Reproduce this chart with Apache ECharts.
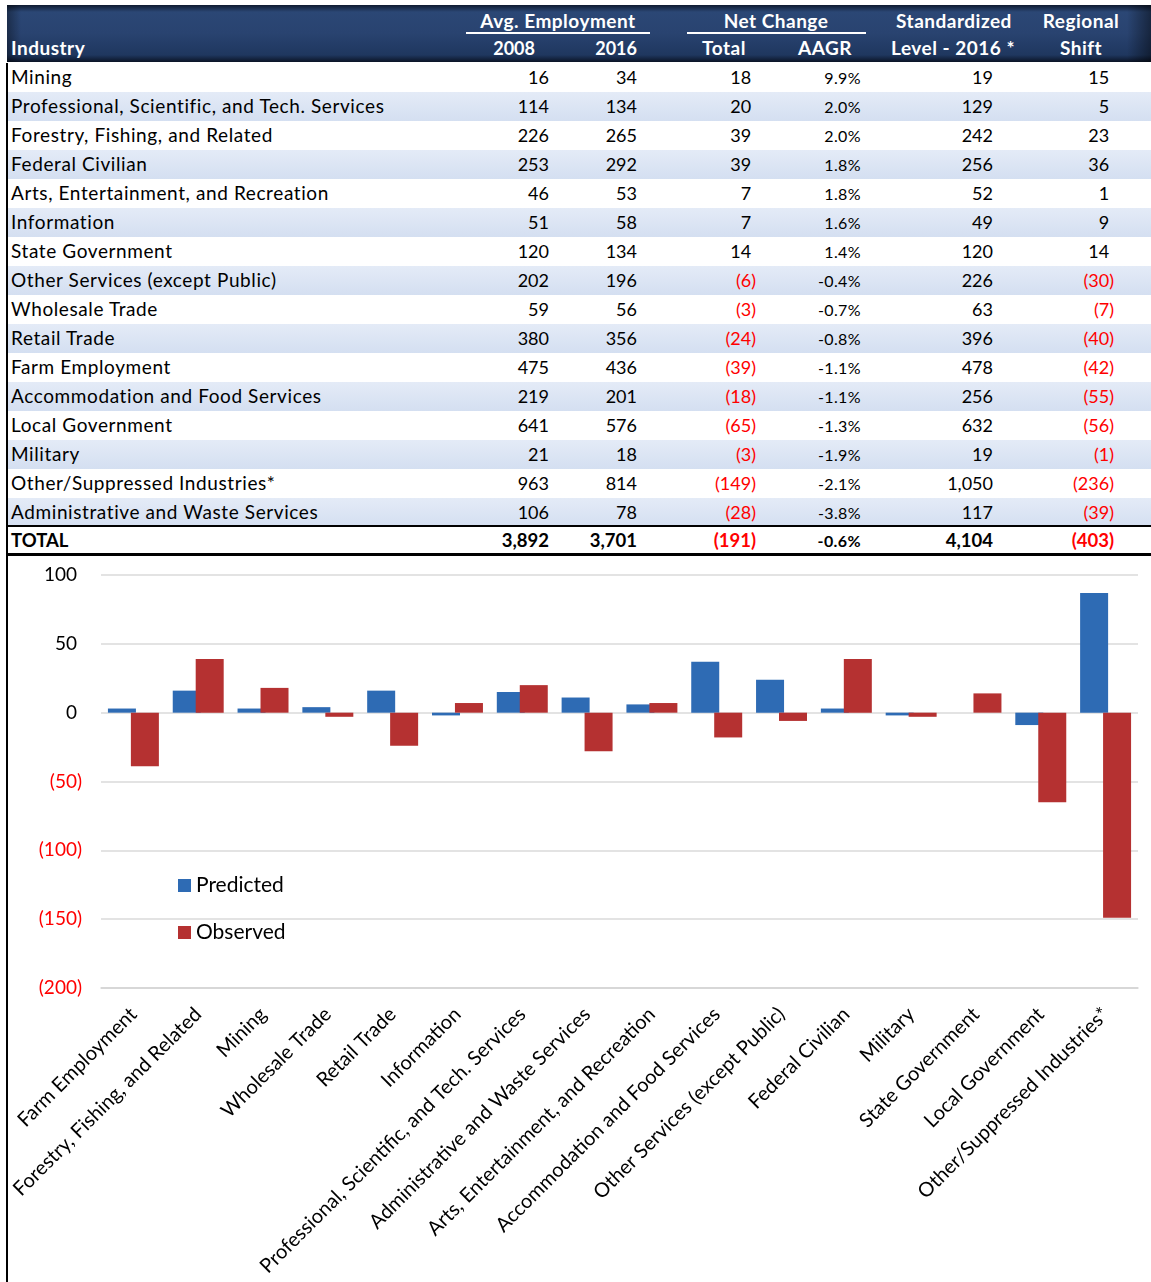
<!DOCTYPE html>
<html>
<head>
<meta charset="utf-8">
<script src="https://cdn.jsdelivr.net/npm/echarts@6/dist/echarts.min.js"></script>
<style>
    body { margin: 0; background: #fff; font-family: Lato, sans-serif; }
    #page { position: relative; width: 1151px; height: 1282px; overflow: hidden; background: #fff; }
    .t { position: absolute; white-space: nowrap; line-height: 24px; height: 24px; }
    .row { position: absolute; left: 7px; width: 1144px; height: 29px; }
    .head { position: absolute; left: 7px; top: 5px; width: 1144px; height: 57px;
        background: linear-gradient(to bottom, #0f1b31 0px, #2b4775 7px, #294370 28px, #1f375f 50px, #0b1426 57px); }
    .head:after { content: ''; position: absolute; left: 0; top: 0; right: 0; bottom: 0;
        background: linear-gradient(to right, rgba(0,0,0,0.35) 0px, rgba(0,0,0,0) 14px, rgba(0,0,0,0) 1120px, rgba(0,0,0,0.45) 1144px); }
    .ht { color: #fff; font-weight: 700; font-size: 19px; letter-spacing: 0.5px; }
    .hn { color: #fff; font-weight: 700; font-size: 18px; }
    .hline { position: absolute; height: 2px; background: #fff; top: 32px; }
    #chart { position: absolute; left: 0; top: 556px; width: 1151px; height: 726px; }
</style>
</head>
<body>
<div id="page">
    <div class="head"></div>
    <div id="chart"></div>
</div>
<script>
    // table rows
    var industries = ['Mining', 'Professional, Scientific, and Tech. Services', 'Forestry, Fishing, and Related',
        'Federal Civilian', 'Arts, Entertainment, and Recreation', 'Information', 'State Government',
        'Other Services (except Public)', 'Wholesale Trade', 'Retail Trade', 'Farm Employment',
        'Accommodation and Food Services', 'Local Government', 'Military', 'Other/Suppressed Industries*',
        'Administrative and Waste Services'];
    var emp2008 = [16, 114, 226, 253, 46, 51, 120, 202, 59, 380, 475, 219, 641, 21, 963, 106];
    var emp2016 = [34, 134, 265, 292, 53, 58, 134, 196, 56, 356, 436, 201, 576, 18, 814, 78];
    var netTotal = [18, 20, 39, 39, 7, 7, 14, -6, -3, -24, -39, -18, -65, -3, -149, -28];
    var aagr = [9.9, 2.0, 2.0, 1.8, 1.8, 1.6, 1.4, -0.4, -0.7, -0.8, -1.1, -1.1, -1.3, -1.9, -2.1, -3.8];
    var stdLevel = [19, 129, 242, 256, 52, 49, 120, 226, 63, 396, 478, 256, 632, 19, 1050, 117];
    var regShift = [15, 5, 23, 36, 1, 9, 14, -30, -7, -40, -42, -55, -56, -1, -236, -39];
    var totalRow = {label: 'TOTAL', emp2008: 3892, emp2016: 3701, net: -191, aagr: -0.6, std: 4104, shift: -403};

    // chart
    var chartCategories = ['Farm Employment', 'Forestry, Fishing, and Related', 'Mining', 'Wholesale Trade',
        'Retail Trade', 'Information', 'Professional, Scientific, and Tech. Services',
        'Administrative and Waste Services', 'Arts, Entertainment, and Recreation',
        'Accommodation and Food Services', 'Other Services (except Public)', 'Federal Civilian', 'Military',
        'State Government', 'Local Government', 'Other/Suppressed Industries*'];
    var predicted = [3, 16, 3, 4, 16, -2, 15, 11, 6, 37, 24, 3, -2, 0, -9, 87];
    var observed = [-39, 39, 18, -3, -24, 7, 20, -28, 7, -18, -6, 39, -3, 14, -65, -149];

    var W = 1151;
    var page = document.getElementById('page');

    function put(txt, x, y, align, style) {
        var d = document.createElement('div');
        d.className = 't';
        d.innerHTML = txt;
        if (style) d.style.cssText = style;
        d.style.top = (y - 12) + 'px';
        if (align === 'left') d.style.left = x + 'px';
        else if (align === 'right') d.style.right = (W - x) + 'px';
        else { d.style.left = x + 'px'; d.style.transform = 'translateX(-50%)'; }
        page.appendChild(d);
        return d;
    }

    function fmt(n) { return n.toLocaleString('en-US'); }
    function paren(n) {
        if (n < 0) return '<span style="color:#ff0000">(' + fmt(-n) + ')</span>';
        return fmt(n) + '<span style="visibility:hidden">)</span>';
    }

    // header
    function hput(txt, x, y, align, cls) { var d = put(txt, x, y, align); d.className = 't ' + (cls || 'ht'); }
    hput('Avg. Employment', 558, 21, 'center');
    hput('Net Change', 776, 21, 'center');
    hput('Standardized', 954, 21, 'center');
    hput('Regional', 1081, 21, 'center');
    hput('Industry', 11, 48, 'left');
    hput('2008', 535, 48, 'right', 'hn');
    hput('2016', 637, 48, 'right', 'hn');
    hput('Total', 724, 48, 'center');
    hput('AAGR', 825, 48, 'center');
    hput('Level - 2016 *', 953, 48, 'center');
    hput('Shift', 1081, 48, 'center');
    [[466, 650], [687, 866]].forEach(function (s) {
        var l = document.createElement('div');
        l.className = 'hline';
        l.style.left = s[0] + 'px';
        l.style.width = (s[1] - s[0]) + 'px';
        page.appendChild(l);
    });

    // body rows
    var base = 'font-size:18px;color:#000;';
    var nameStyle = 'font-size:19px;letter-spacing:0.6px;color:#000;';
    var pctStyle = 'font-size:16px;letter-spacing:0.4px;color:#000;';
    for (var i = 0; i < industries.length; i++) {
        var rowTop = 63 + 29 * i, y = rowTop + 13.5;
        var r = document.createElement('div');
        r.className = 'row';
        r.style.top = rowTop + 'px';
        r.style.background = i % 2 ? 'linear-gradient(to bottom, #e4ebf7, #d4dff1)' : '#fff';
        page.insertBefore(r, page.firstChild);
        put(industries[i], 11, y, 'left', nameStyle);
        put(fmt(emp2008[i]), 549, y, 'right', base);
        put(fmt(emp2016[i]), 637, y, 'right', base);
        put(paren(netTotal[i]), 756, y, 'right', base);
        put(aagr[i].toFixed(1) + '%', 861, y + 1, 'right', pctStyle);
        put(fmt(stdLevel[i]), 993, y, 'right', base);
        put(paren(regShift[i]), 1114, y, 'right', base);
    }
    var ty = 540, bold = 'font-size:18.5px;color:#000;font-weight:700;';
    put(totalRow.label, 11, ty, 'left', bold);
    put(fmt(totalRow.emp2008), 549, ty, 'right', bold);
    put(fmt(totalRow.emp2016), 637, ty, 'right', bold);
    put(paren(totalRow.net), 756, ty, 'right', bold);
    put(totalRow.aagr.toFixed(1) + '%', 861, ty + 1, 'right', pctStyle + 'font-weight:700;');
    put(fmt(totalRow.std), 993, ty, 'right', bold);
    put(paren(totalRow.shift), 1114, ty, 'right', bold);

    // rules around total row and left border
    [[7, 525, 1144, 2], [7, 553, 1144, 3], [6, 63, 2, 1219]].forEach(function (b) {
        var d = document.createElement('div');
        d.style.cssText = 'position:absolute;background:#000;left:' + b[0] + 'px;top:' + b[1] +
            'px;width:' + b[2] + 'px;height:' + b[3] + 'px;';
        page.appendChild(d);
    });

    var chart = echarts.init(document.getElementById('chart'));
    chart.setOption({
        animation: false,
        textStyle: {fontFamily: 'Lato'},
        grid: {left: 101, right: 13, top: 19, bottom: 294},
        legend: {
            orient: 'vertical', left: 173, top: 314, itemWidth: 13, itemHeight: 13, itemGap: 26,
            icon: 'rect', textStyle: {fontSize: 21, color: '#000'},
            data: ['Predicted', 'Observed']
        },
        xAxis: {
            type: 'category',
            data: chartCategories,
            axisLine: {onZero: false, lineStyle: {color: '#d4d4d4', width: 1.5}},
            axisTick: {show: false},
            axisLabel: {rotate: 45, fontSize: 20, color: '#000', margin: 23, interval: 0},
            splitLine: {show: false}
        },
        yAxis: {
            type: 'value',
            min: -200,
            max: 100,
            interval: 50,
            axisLine: {show: false},
            axisTick: {show: false},
            splitLine: {lineStyle: {color: '#dadada', width: 1.5}},
            axisLabel: {
                margin: 19,
                formatter: function (v) {
                    return v < 0 ? '{n|(' + (-v) + ')}' : '{p|' + v + '}';
                },
                rich: {
                    n: {color: '#ff0000', fontSize: 19},
                    p: {color: '#000', fontSize: 19, padding: [0, 5, 0, 0]}
                }
            }
        },
        series: [
            {name: 'Predicted', type: 'bar', data: predicted, barWidth: 28, barGap: '-18%',
                itemStyle: {color: '#2e6bb4'}},
            {name: 'Observed', type: 'bar', data: observed, barWidth: 28,
                itemStyle: {color: '#b53131'}}
        ]
    });
</script>
</body>
</html>
